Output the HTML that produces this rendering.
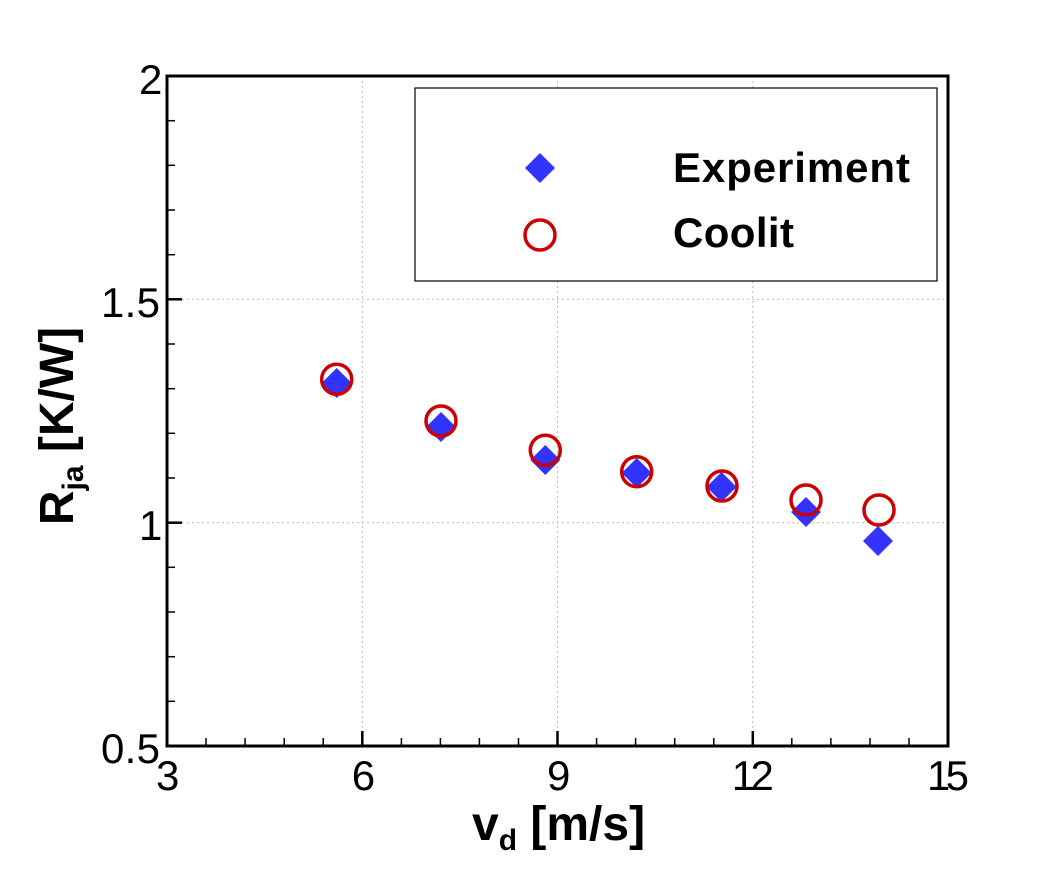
<!DOCTYPE html>
<html><head><style>body{margin:0;background:#fff}</style></head><body>
<svg width="1045" height="873" xmlns="http://www.w3.org/2000/svg" font-family="Liberation Sans, sans-serif">
<rect width="1045" height="873" fill="#fff"/>
<g stroke="#bbb" stroke-width="1" stroke-dasharray="2,3">
<line x1="362.3" y1="76" x2="362.3" y2="746"/>
<line x1="557.5" y1="76" x2="557.5" y2="746"/>
<line x1="752.8" y1="76" x2="752.8" y2="746"/>
<line x1="167" y1="299.3" x2="948" y2="299.3"/>
<line x1="167" y1="522.7" x2="948" y2="522.7"/>
</g>
<g stroke="#000" stroke-width="1.5">
<line x1="206" y1="746" x2="206" y2="738"/><line x1="245.1" y1="746" x2="245.1" y2="738"/><line x1="284.2" y1="746" x2="284.2" y2="738"/><line x1="323.2" y1="746" x2="323.2" y2="738"/>
<line x1="401.4" y1="746" x2="401.4" y2="738"/><line x1="440.4" y1="746" x2="440.4" y2="738"/><line x1="479.4" y1="746" x2="479.4" y2="738"/><line x1="518.5" y1="746" x2="518.5" y2="738"/>
<line x1="596.6" y1="746" x2="596.6" y2="738"/><line x1="635.6" y1="746" x2="635.6" y2="738"/><line x1="674.7" y1="746" x2="674.7" y2="738"/><line x1="713.8" y1="746" x2="713.8" y2="738"/>
<line x1="791.8" y1="746" x2="791.8" y2="738"/><line x1="830.9" y1="746" x2="830.9" y2="738"/><line x1="870" y1="746" x2="870" y2="738"/><line x1="909" y1="746" x2="909" y2="738"/>
<line x1="167" y1="120.7" x2="175" y2="120.7"/><line x1="167" y1="165.3" x2="175" y2="165.3"/><line x1="167" y1="210" x2="175" y2="210"/><line x1="167" y1="254.7" x2="175" y2="254.7"/>
<line x1="167" y1="344" x2="175" y2="344"/><line x1="167" y1="388.7" x2="175" y2="388.7"/><line x1="167" y1="433.3" x2="175" y2="433.3"/><line x1="167" y1="478" x2="175" y2="478"/>
<line x1="167" y1="567.3" x2="175" y2="567.3"/><line x1="167" y1="612" x2="175" y2="612"/><line x1="167" y1="656.7" x2="175" y2="656.7"/><line x1="167" y1="701.3" x2="175" y2="701.3"/>
</g>
<g stroke="#000" stroke-width="2.5">
<line x1="362.3" y1="746" x2="362.3" y2="731"/><line x1="557.5" y1="746" x2="557.5" y2="731"/><line x1="752.8" y1="746" x2="752.8" y2="731"/>
<line x1="167" y1="299.3" x2="182" y2="299.3"/><line x1="167" y1="522.7" x2="182" y2="522.7"/>
</g>
<rect x="167" y="76" width="781" height="670" fill="none" stroke="#000" stroke-width="3"/>
<rect x="415" y="88" width="522" height="193" fill="#fff" stroke="#000" stroke-width="1.2"/>
<g font-size="42" fill="#000">
<text x="139" y="94" textLength="21">2</text>
<text x="101" y="317" textLength="59">1.5</text>
<text x="139" y="540" textLength="21">1</text>
<text x="101" y="763" textLength="59">0.5</text>
<text x="156" y="790" textLength="21">3</text>
<text x="351.8" y="790" textLength="21">6</text>
<text x="547" y="790" textLength="21">9</text>
<text x="731.8" y="790" textLength="42">12</text>
<text x="927" y="790" textLength="42">15</text>
</g>
<text x="472" y="840" font-size="48" font-weight="bold">v<tspan font-size="30" dy="10">d</tspan><tspan dy="-10"> [m/s]</tspan></text>
<text transform="translate(73,426) rotate(-90)" font-size="48" font-weight="bold" text-anchor="middle">R<tspan font-size="30" dy="10">ja</tspan><tspan dy="-10"> [K/W]</tspan></text>
<g fill="#3333ff">
<polygon points="540,153 555,168 540,183 525,168"/>
<polygon points="336.7,368 351.7,383 336.7,398 321.7,383"/>
<polygon points="441,412 456,427 441,442 426,427"/>
<polygon points="545.3,445 560.3,460 545.3,475 530.3,460"/>
<polygon points="636.7,458 651.7,473 636.7,488 621.7,473"/>
<polygon points="721.5,472 736.5,487 721.5,502 706.5,487"/>
<polygon points="806,497 821,512 806,527 791,512"/>
<polygon points="878,526 893,541 878,556 863,541"/>
</g>
<g fill="none" stroke="#cc0000" stroke-width="3.5">
<circle cx="540" cy="235" r="15"/>
<circle cx="336.7" cy="379.3" r="15"/>
<circle cx="441" cy="421" r="15"/>
<circle cx="545.3" cy="450.3" r="15"/>
<circle cx="636.7" cy="471.7" r="15"/>
<circle cx="722" cy="486" r="15"/>
<circle cx="806" cy="500" r="15"/>
<circle cx="879" cy="510" r="15"/>
</g>
<text x="673" y="182" font-size="42" font-weight="bold" textLength="237">Experiment</text>
<text x="673" y="247" font-size="42" font-weight="bold" textLength="121">Coolit</text>
</svg>
</body></html>
